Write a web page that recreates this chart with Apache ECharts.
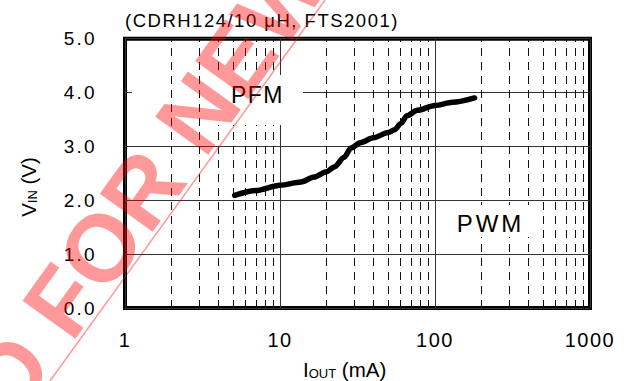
<!DOCTYPE html>
<html><head><meta charset="utf-8">
<script src="https://cdn.jsdelivr.net/npm/echarts@6/dist/echarts.min.js"></script>
<style>
html,body{margin:0;padding:0;background:#fff}
#c{width:630px;height:381px}
#c svg text{letter-spacing:1.5px}
#c svg text[style*="19px"]{letter-spacing:2.3px}
#c svg text[style*="24px"]{letter-spacing:2.9px}
#c svg text[style*="20.5px"]{letter-spacing:0}
#c svg text[style*="13px"]{letter-spacing:0}
#c svg text[style*="95px"]{letter-spacing:0}
</style></head><body><div id="c"></div>
<script>
// ---- data ----
const currentMA = [5.1, 7, 10, 13.7, 16.6, 20, 22.4, 26, 28.7, 33, 40, 50, 55, 60, 66, 77, 100, 130, 180];
const vinV = [2.09, 2.18, 2.28, 2.34, 2.43, 2.53, 2.62, 2.80, 2.97, 3.07, 3.16, 3.26, 3.31, 3.42, 3.57, 3.67, 3.76, 3.82, 3.90];
const minorTicks = [2,3,4,5,6,7,8,9,20,30,40,50,60,70,80,90,200,300,400,500,600,700,800,900];
const xRange = [1, 1000];
const yRange = [0, 5];
const titleText = '(CDRH124/10 μH, FTS2001)';
const watermarkText = 'NOT RECOMMENDED FOR NEW DESIGN';

const FONT = '"Liberation Sans", Arial, sans-serif';
const chart = echarts.init(document.getElementById('c'), null, {renderer: 'svg'});

// watermark geometry
const th = Math.atan2(381, 275);
const u = [Math.cos(th), -Math.sin(th)];
const n = [-Math.sin(th), -Math.cos(th)];
const cv = document.createElement('canvas').getContext('2d');
cv.font = 'bold 95px "Liberation Sans"';
const pre = cv.measureText('NOT RECOMMENDED ').width;
const fO = [72, 344];
const start = [fO[0] - pre * u[0], fO[1] - pre * u[1]];
const mid = 0.3465 * 95;
const wp = [start[0] + mid * n[0], start[1] + mid * n[1]];

const option = {
  animation: false,
  grid: {left: 125, right: 40, top: 38.7, bottom: 73, show: true, borderColor: '#000', borderWidth: 4, backgroundColor: 'transparent'},
  xAxis: {
    type: 'log', logBase: 10, min: xRange[0], max: xRange[1],
    axisLine: {show: false}, axisTick: {show: false},
    axisLabel: {fontSize: 20, color: '#000', margin: 22, fontFamily: FONT, formatter: v => String(v)},
    splitLine: {show: true, lineStyle: {color: '#333', width: 1}}
  },
  yAxis: {
    type: 'value', min: yRange[0], max: yRange[1], interval: 1,
    axisLine: {show: false}, axisTick: {show: false},
    axisLabel: {formatter: v => v.toFixed(1), fontSize: 19, color: '#000', margin: 28, fontFamily: FONT},
    splitLine: {show: true, lineStyle: {color: '#333', width: 1}}
  },
  series: [
    {
      type: 'line', data: [], z: 2, silent: true,
      markLine: {
        z: 2, silent: true, symbol: 'none', label: {show: false}, animation: false,
        lineStyle: {type: [8, 6], color: '#111', width: 1},
        emphasis: {disabled: true},
        data: minorTicks.map(v => ({xAxis: v}))
      }
    },
    {
      type: 'line', z: 4, silent: true, showSymbol: false, smooth: 0.3, smoothMonotone: 'x',
      data: currentMA.map((x, i) => [x, vinV[i]]),
      lineStyle: {color: '#000', width: 5.5, cap: 'round', join: 'round'}
    }
  ],
  graphic: [
    {type: 'rect', silent: true, z: 1, shape: {x: 132, y: 90, width: 73, height: 5}, style: {fill: '#fff'}},
    {type: 'rect', silent: true, z: 3, shape: {x: 205, y: 75, width: 98, height: 50}, style: {fill: '#fff'}},
    {type: 'rect', silent: true, z: 3, shape: {x: 455, y: 205, width: 80, height: 32}, style: {fill: '#fff'}},
    {type: 'text', silent: true, z: 5, x: 257.5, y: 95,
      style: {text: 'PFM', fontSize: 23, fontFamily: FONT, fill: '#000', align: 'center', verticalAlign: 'middle', textAlign: 'center', textVerticalAlign: 'middle'}},
    {type: 'text', silent: true, z: 5, x: 490.5, y: 223,
      style: {text: 'PWM', fontSize: 24, fontFamily: FONT, fill: '#000', align: 'center', verticalAlign: 'middle', textAlign: 'center', textVerticalAlign: 'middle'}},
    {type: 'text', silent: true, z: 5, x: 125, y: 20.5,
      style: {text: titleText, fontSize: 18.5, fontFamily: FONT, fill: '#000', align: 'left', verticalAlign: 'middle', textAlign: 'left', textVerticalAlign: 'middle'}},
    {type: 'text', silent: true, z: 5, x: 303, y: 369.5,
      style: {text: '{a|I}{b|OUT}{a| (mA)}', align: 'left', verticalAlign: 'middle', textAlign: 'left', textVerticalAlign: 'middle',
        rich: {a: {fontSize: 20.5, fontFamily: FONT, fill: '#000'}, b: {fontSize: 13, fontFamily: FONT, fill: '#000', verticalAlign: 'bottom'}}}},
    {type: 'text', silent: true, z: 5, x: 28, y: 187, rotation: Math.PI / 2,
      style: {text: '{a|V}{b|IN}{a| (V)}', align: 'center', verticalAlign: 'middle', textAlign: 'center', textVerticalAlign: 'middle',
        rich: {a: {fontSize: 20.5, fontFamily: FONT, fill: '#000'}, b: {fontSize: 13, fontFamily: FONT, fill: '#000', verticalAlign: 'bottom'}}}},
    {type: 'line', silent: true, z: 10, shape: {x1: 325, y1: 0, x2: 50, y2: 381}, style: {stroke: 'rgba(255,0,0,0.4)', lineWidth: 1.5}},
    {type: 'text', silent: true, z: 10, x: wp[0], y: wp[1], rotation: th,
      style: {text: watermarkText, fontSize: 95, fontWeight: 'bold', fontFamily: '"Liberation Sans"', fill: 'rgba(255,0,0,0.4)',
        align: 'left', verticalAlign: 'middle', textAlign: 'left', textVerticalAlign: 'middle'}}
  ]
};
chart.setOption(option);
</script></body></html>
